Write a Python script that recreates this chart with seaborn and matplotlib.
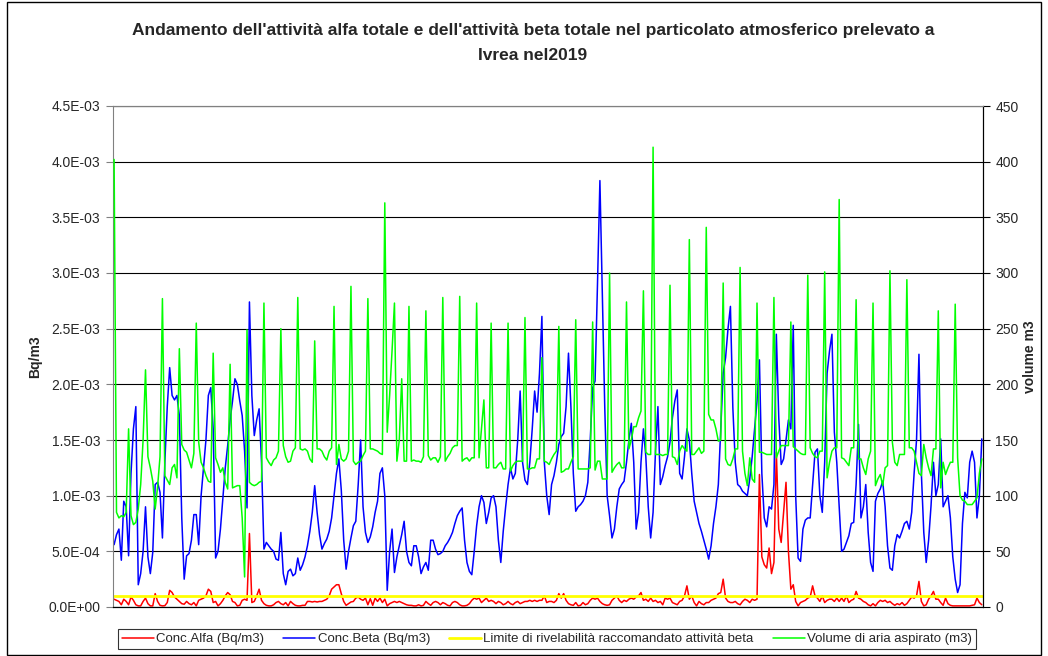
import numpy as np
import pandas as pd
import matplotlib
matplotlib.use("Agg")
import matplotlib.pyplot as plt
import seaborn as sns
from matplotlib.ticker import MultipleLocator, FuncFormatter
from matplotlib.patches import Rectangle

# Conc. alfa giornaliera (E-03 Bq/m3)
alfa = [
    .07, .06, .05, .02, .07, .05, .02,
    .09, .06, .02, .01, .01, .05, .08,
    .03, .01, .01, .12, .05, .015, .01,
    .012, .04, .15, .13, .09, .07, .05,
    .03, .025, .05, .03, .02, .04, .01,
    .06, .07, .08, .10, .16, .14, .04,
    .05, .01, .03, .06, .10, .13, .11,
    .05, .04, .01, .015, .06, .07, .06,
    .66, .04, .05, .10, .16, .06, .03,
    .015, .01, .01, .02, .04, .05, .03,
    .02, .04, .01, .05, .03, .015, .01,
    .01, .015, .015, .05, .05, .045, .05,
    .045, .05, .05, .06, .07, .10, .16,
    .18, .20, .20, .12, .05, .015, .03,
    .045, .05, .08, .09, .07, .06, .08,
    .02, .075, .015, .08, .05, .08, .04,
    .07, .01, .03, .04, .05, .04, .05,
    .04, .03, .02, .015, .015, .01, .01,
    .02, .01, .015, .05, .03, .015, .04,
    .05, .04, .02, .04, .03, .015, .01,
    .04, .05, .04, .02, .01, .01, .015,
    .03, .06, .08, .07, .08, .04, .06,
    .08, .05, .06, .05, .03, .05, .04,
    .02, .03, .05, .03, .02, .04, .05,
    .03, .04, .05, .05, .06, .05, .06,
    .05, .06, .06, .10, .04, .05, .05,
    .04, .06, .12, .08, .12, .06, .03,
    .02, .015, .04, .01, .015, .04, .02,
    .03, .06, .08, .07, .08, .05, .03,
    .02, .015, .02, .06, .08, .10, .06,
    .04, .06, .05, .07, .08, .07, .09,
    .10, .13, .06, .07, .05, .08, .05,
    .06, .04, .05, .02, .08, .07, .08,
    .04, .03, .02, .05, .06, .10, .19,
    .07, .10, .04, .01, .05, .03, .02,
    .04, .04, .06, .07, .08, .12, .13,
    .25, .08, .05, .04, .04, .05, .03,
    .02, .05, .07, .06, .04, .07, .06,
    .07, 1.19, .45, .38, .35, .53, .30,
    .40, 1.39, .70, .58, .85, 1.12, .50,
    .16, .20, .05, .01, .04, .05, .06,
    .08, .09, .19, .10, .08, .05, .10,
    .04, .06, .07, .07, .05, .08, .05,
    .08, .05, .10, .04, .06, .07, .14,
    .08, .07, .05, .04, .02, .01, .03,
    .01, .04, .06, .05, .06, .04, .05,
    .03, .015, .03, .02, .04, .015, .03,
    .06, .09, .08, .10, .23, .05, .01,
    .02, .07, .10, .14, .07, .07, .04,
    .015, .08, .03, .015, .01, .01, .01,
    .01, .01, .01, .01, .01, .015, .02,
    .08, .04, .02,
]

# Conc. beta giornaliera (E-03 Bq/m3)
beta = [
    .56, .65, .70, .42, .95, .90, .46,
    1.20, 1.60, 1.80, .20, .30, .50, .90,
    .45, .30, .49, 1.10, 1.12, 1.03, .62,
    1.30, 1.80, 2.15, 1.90, 1.86, 1.90, 1.72,
    .80, .25, .46, .48, .60, .83, .83,
    .56, 1.00, 1.25, 1.50, 1.90, 1.97, 1.60,
    .44, .50, .70, .97, 1.25, 1.45, 1.68,
    1.85, 2.05, 2.00, 1.85, 1.72, 1.40, .89,
    2.74, 1.90, 1.54, 1.68, 1.78, 1.30, .52,
    .58, .55, .52, .50, .43, .42, .67,
    .30, .20, .32, .34, .28, .30, .44,
    .33, .38, .45, .55, .68, .85, 1.09,
    .85, .65, .52, .57, .61, .68, .80,
    1.00, 1.20, 1.33, 1.05, .60, .34, .50,
    .62, .73, .77, 1.10, 1.50, .90, .67,
    .58, .63, .72, .85, .95, 1.20, 1.25,
    1.00, .15, .50, .70, .31, .45, .55,
    .65, .77, .50, .40, .37, .55, .55,
    .45, .30, .36, .40, .33, .60, .60,
    .52, .47, .48, .50, .55, .58, .62,
    .67, .75, .82, .86, .89, .60, .40,
    .32, .29, .50, .73, .90, 1.00, .94,
    .75, .85, .98, 1.00, .90, .60, .40,
    .68, .90, 1.10, 1.25, 1.15, 1.20, 1.50,
    1.94, 1.30, 1.14, 1.10, 1.30, 1.60, 1.94,
    1.75, 2.10, 2.61, 1.30, 1.00, .83, 1.10,
    1.18, 1.30, 1.46, 1.53, 1.56, 1.80, 2.28,
    1.80, 1.20, .86, .90, .92, .95, 1.00,
    1.12, 1.50, 1.97, 2.03, 2.90, 3.83, 2.80,
    1.80, 1.00, .82, .62, .70, .90, 1.06,
    1.10, 1.13, 1.30, 1.50, 1.65, 1.30, .70,
    .85, 1.30, 1.60, 1.35, .90, .62, .85,
    1.40, 1.80, 1.10, 1.17, 1.27, 1.35, 1.48,
    1.70, 1.85, 1.95, 1.20, 1.15, 1.35, 1.60,
    1.50, 1.20, .95, .85, .75, .68, .60,
    .52, .43, .55, .75, .90, 1.10, 1.60,
    2.10, 2.24, 2.50, 2.70, 1.79, 1.30, 1.10,
    1.08, 1.04, 1.02, 1.00, 1.15, 1.35, 1.60,
    1.85, 2.22, 1.20, .80, .72, .90, .88,
    1.10, 2.45, 1.70, 1.28, 1.33, 1.50, 1.68,
    1.60, 2.53, 1.00, .44, .41, .70, .78,
    .80, .80, 1.10, 1.39, 1.42, 1.00, .85,
    1.30, 2.10, 2.30, 2.45, 1.57, 1.30, .90,
    .50, .52, .58, .64, .75, .76, 1.10,
    1.64, .80, .90, 1.10, .67, .40, .32,
    .95, 1.02, 1.06, 1.13, .90, .55, .35,
    .33, .55, .65, .62, .68, .75, .77,
    .70, .85, 1.20, 1.50, 2.27, 1.20, .67,
    .40, .60, .91, 1.30, 1.00, 1.10, 1.51,
    .90, .95, 1.00, .80, .45, .25, .13,
    .20, .75, 1.03, .98, 1.30, 1.40, 1.30,
    .80, 1.00, 1.51,
]

# Volume di aria aspirato giornaliero (m3)
volume = [
    402, 85, 80, 82, 81, 85, 160,
    82, 74, 76, 88, 110, 150, 213,
    135, 125, 113, 88, 108, 135, 277,
    118, 114, 110, 125, 128, 116, 232,
    146, 141, 139, 132, 125, 138, 255,
    148, 130, 125, 118, 113, 112, 228,
    134, 128, 121, 125, 112, 106, 218,
    107, 108, 109, 109, 80, 27, 249,
    112, 110, 109, 110, 112, 113, 273,
    134, 130, 127, 132, 134, 140, 250,
    145, 135, 130, 131, 140, 143, 278,
    142, 141, 142, 140, 133, 130, 239,
    142, 142, 140, 135, 132, 140, 143,
    270, 128, 146, 133, 131, 133, 140,
    288, 131, 128, 130, 131, 136, 140,
    277, 142, 142, 141, 140, 138, 137,
    363, 157, 190, 230, 273, 131, 150,
    205, 131, 131, 270, 131, 132, 131,
    131, 130, 135, 266, 136, 132, 134,
    134, 130, 135, 278, 131, 135, 138,
    143, 145, 145, 279, 131, 133, 134,
    131, 134, 134, 273, 134, 160, 186,
    125, 125, 255, 125, 125, 128, 130,
    124, 124, 255, 122, 127, 130, 131,
    131, 131, 260, 124, 124, 125, 125,
    133, 133, 224, 131, 130, 128, 133,
    137, 140, 252, 121, 122, 124, 124,
    130, 135, 258, 124, 124, 124, 124,
    124, 125, 256, 123, 131, 131, 115,
    115, 115, 300, 121, 125, 128, 130,
    125, 125, 274, 142, 150, 162, 162,
    170, 176, 284, 139, 137, 137, 413,
    137, 137, 137, 136, 137, 137, 289,
    135, 134, 128, 140, 145, 142, 140,
    330, 137, 137, 140, 143, 138, 140,
    341, 173, 168, 168, 160, 149, 150,
    291, 133, 128, 127, 133, 142, 142,
    305, 140, 120, 109, 134, 115, 112,
    273, 139, 139, 138, 137, 137, 137,
    278, 134, 140, 145, 145, 145, 145,
    256, 144, 142, 140, 138, 137, 137,
    298, 143, 138, 135, 134, 140, 140,
    301, 116, 130, 140, 143, 143, 366,
    134, 133, 130, 127, 143, 143, 276,
    133, 133, 125, 119, 133, 140, 273,
    109, 115, 119, 109, 125, 127, 302,
    148, 130, 127, 137, 137, 137, 294,
    143, 143, 140, 130, 120, 118, 146,
    134, 125, 118, 142, 142, 266, 107,
    130, 119, 125, 130, 130, 272, 134,
    100, 96, 95, 92, 92, 92, 95,
    98, 120, 133,
]

limite = 1.0e-4  # limite di rivelabilita' raccomandato attivita' beta (Bq/m3)

labels = ['Conc.Alfa (Bq/m3)', 'Conc.Beta (Bq/m3)',
          'Limite di rivelabilità raccomandato attività beta',
          'Volume di aria aspirato (m3)']

df_alfa = pd.DataFrame({'giorno': np.arange(len(alfa)), 'val': np.array(alfa) * 1e-3})
df_beta = pd.DataFrame({'giorno': np.arange(len(beta)), 'val': np.array(beta) * 1e-3})
df_vol = pd.DataFrame({'giorno': np.arange(len(volume)), 'val': volume})
n_days = max(len(alfa), len(beta), len(volume))
df_lim = pd.DataFrame({'giorno': [0, n_days - 1], 'val': [limite, limite]})

sns.set_style("white")
plt.rcParams['font.family'] = ['Liberation Sans', 'DejaVu Sans']

fig = plt.figure(figsize=(10.48, 6.56), dpi=100)
ax1 = fig.add_axes([113 / 1048, 1 - 607 / 656, 870 / 1048, 501 / 656])
ax2 = ax1.twinx()

sns.lineplot(data=df_alfa, x='giorno', y='val', ax=ax1, color='#FF0000', lw=1.1, label=labels[0])
sns.lineplot(data=df_beta, x='giorno', y='val', ax=ax1, color='#0000FF', lw=1.1, label=labels[1])
sns.lineplot(data=df_lim, x='giorno', y='val', ax=ax1, color='#FFFF00', lw=2.0, label=labels[2])
sns.lineplot(data=df_vol, x='giorno', y='val', ax=ax2, color='#00FF00', lw=1.1, label=labels[3])

h1, l1 = ax1.get_legend_handles_labels()
h2, l2 = ax2.get_legend_handles_labels()
ax1.get_legend().remove()
ax2.get_legend().remove()

# first and last day sit just inside the axes, as in the original
ax1.set_xlim(-0.45, n_days - 0.5)
ax1.set_ylim(0, 4.5e-3)
ax2.set_ylim(0, 450)
ax1.yaxis.set_major_locator(MultipleLocator(0.5e-3))
ax2.yaxis.set_major_locator(MultipleLocator(50))
ax1.yaxis.set_major_formatter(FuncFormatter(lambda v, p: f"{v:.1E}"))
ax1.set_xticks([])
ax1.set_xlabel('')
ax1.set_ylabel('')
ax2.set_ylabel('')

ax1.yaxis.grid(True, color='black', lw=0.8)
ax1.set_axisbelow(True)
for ax in (ax1, ax2):
    for s in ax.spines.values():
        s.set_color('black')
        s.set_linewidth(0.8)
    ax.spines['top'].set_color('#808080')
ax1.spines['left'].set_color('#808080')
ax2.spines['left'].set_visible(False)
ax1.tick_params(axis='y', direction='out', length=5, width=0.8, color='#808080',
                labelsize=10, pad=4, left=True)
ax2.tick_params(axis='y', direction='out', length=5, width=0.8, color='black',
                labelsize=10, pad=4, right=True)

fig.text(35 / 1048, 1 - 357 / 656, 'Bq/m3', rotation=90, ha='center', va='center',
         fontsize=10, fontweight='bold')
fig.text(1030 / 1048, 1 - 357 / 656, 'volume m3', rotation=90, ha='center', va='center',
         fontsize=10, fontweight='bold')

fig.text(533 / 1048, 1 - 31 / 656,
         "Andamento dell'attività alfa totale e dell'attività beta totale nel particolato atmosferico prelevato a",
         ha='center', va='center', fontsize=12.5, fontweight='bold')
fig.text(533 / 1048, 1 - 55 / 656, "Ivrea nel2019", ha='center', va='center',
         fontsize=12.5, fontweight='bold')

leg = fig.legend(h1 + h2, l1 + l2, loc='center', bbox_to_anchor=(547 / 1048, 1 - 639 / 656),
                 ncol=4, fontsize=9.5, frameon=True, fancybox=False, edgecolor='black',
                 handlelength=2.4, handletextpad=0.2, columnspacing=1.45, borderpad=0.3)
leg.get_frame().set_linewidth(0.8)

fig.patches.append(Rectangle((7 / 1048, 0.002), 1034 / 1048, 0.995, transform=fig.transFigure,
                             fill=False, edgecolor='black', lw=1.0))

fig.savefig('out.png', dpi=100)
